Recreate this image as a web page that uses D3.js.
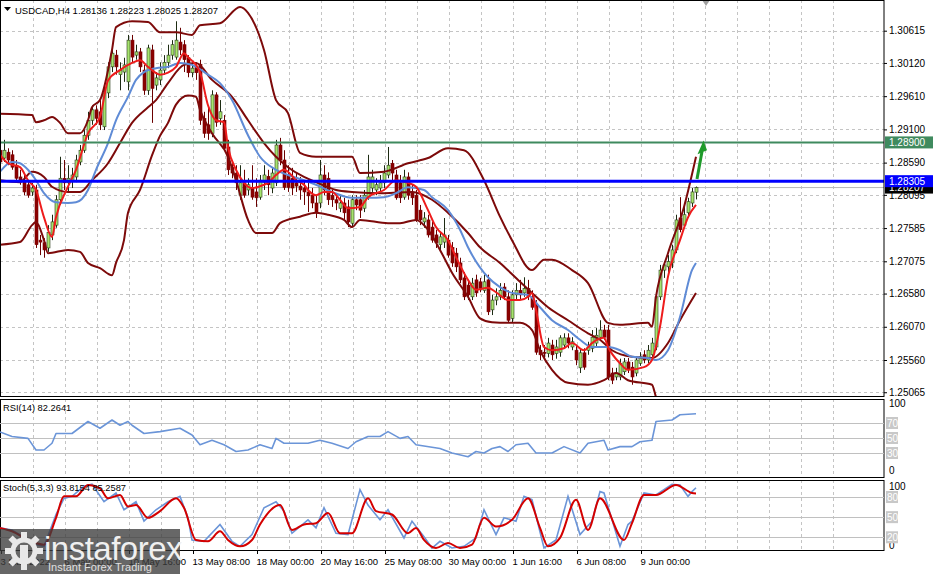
<!DOCTYPE html>
<html><head><meta charset="utf-8">
<script src="https://cdn.jsdelivr.net/npm/d3@7"></script>
<style>
body{margin:0;background:#fff;overflow:hidden}
svg{display:block}
text{font-family:"Liberation Sans",Arial,sans-serif}
</style>
</head><body>
<svg id="chart" width="933" height="574"></svg>
<script>
// ---------------- DATA ----------------
const titleText = "USDCAD,H4  1.28136 1.28223 1.28025 1.28207";
const rsiTitle = "RSI(14) 82.2641";
const stochTitle = "Stoch(5,3,3) 93.8154 85.2587";

// candles: [open, high, low, close], one per H4 bar
const candles = [
[1.2878,1.2886,1.2855,1.2860],[1.2866,1.2894,1.2860,1.2878],[1.2875,1.2881,1.2855,1.2863],[1.2871,1.2878,1.2848,1.2852],
[1.2855,1.2863,1.2829,1.2835],[1.2837,1.2848,1.2825,1.2832],[1.2832,1.2840,1.2809,1.2814],[1.2825,1.2832,1.2805,1.2809],
[1.2814,1.2828,1.2808,1.2820],[1.2817,1.2825,1.2728,1.2733],[1.2740,1.2748,1.2717,1.2737],[1.2736,1.2743,1.2713,1.2725],
[1.2728,1.2763,1.2722,1.2752],[1.2748,1.2779,1.2740,1.2768],[1.2763,1.2809,1.2759,1.2802],[1.2802,1.2868,1.2794,1.2835],
[1.2835,1.2863,1.2817,1.2828],[1.2828,1.2855,1.2814,1.2835],[1.2832,1.2851,1.2820,1.2840],[1.2837,1.2871,1.2829,1.2863],
[1.2860,1.2886,1.2855,1.2878],[1.2878,1.2909,1.2874,1.2901],[1.2901,1.2937,1.2894,1.2924],[1.2924,1.2947,1.2917,1.2940],
[1.2940,1.2947,1.2917,1.2927],[1.2937,1.2955,1.2909,1.2917],[1.2914,1.2978,1.2909,1.2966],[1.2966,1.3013,1.2958,1.3006],
[1.3006,1.3040,1.2998,1.3027],[1.3024,1.3032,1.2994,1.3006],[1.2994,1.3013,1.2970,1.3001],[1.2998,1.3020,1.2983,1.3009],
[1.2983,1.3055,1.2970,1.3047],[1.3047,1.3055,1.3013,1.3021],[1.3024,1.3040,1.3017,1.3029],[1.3029,1.3035,1.2998,1.3006],
[1.3001,1.3009,1.2963,1.2970],[1.2970,1.3040,1.2963,1.3035],[1.3032,1.3040,1.2920,1.2973],[1.2978,1.2998,1.2970,1.2989],
[1.2986,1.3013,1.2978,1.3001],[1.3001,1.3024,1.2994,1.3013],[1.3013,1.3040,1.3004,1.3024],[1.3024,1.3047,1.3017,1.3040],
[1.3021,1.3076,1.3017,1.3047],[1.3044,1.3066,1.3024,1.3032],[1.3040,1.3047,1.2998,1.3017],[1.3020,1.3024,1.2990,1.2997],
[1.2997,1.3013,1.2990,1.3004],[1.3007,1.3013,1.2986,1.2997],[1.3010,1.3017,1.2917,1.2924],[1.2927,1.2937,1.2897,1.2904],
[1.2917,1.2943,1.2894,1.2904],[1.2904,1.2970,1.2898,1.2963],[1.2963,1.2967,1.2914,1.2921],[1.2927,1.2955,1.2917,1.2937],
[1.2924,1.2932,1.2878,1.2881],[1.2883,1.2894,1.2840,1.2848],[1.2852,1.2863,1.2835,1.2843],[1.2843,1.2855,1.2817,1.2828],
[1.2809,1.2855,1.2802,1.2828],[1.2828,1.2848,1.2805,1.2809],[1.2817,1.2835,1.2809,1.2825],[1.2821,1.2855,1.2802,1.2806],
[1.2814,1.2835,1.2791,1.2805],[1.2806,1.2840,1.2802,1.2832],[1.2829,1.2855,1.2817,1.2840],[1.2838,1.2848,1.2809,1.2825],
[1.2820,1.2851,1.2812,1.2843],[1.2828,1.2894,1.2823,1.2886],[1.2886,1.2897,1.2855,1.2863],[1.2863,1.2878,1.2817,1.2821],
[1.2840,1.2855,1.2814,1.2821],[1.2835,1.2851,1.2809,1.2820],[1.2828,1.2844,1.2814,1.2823],[1.2823,1.2837,1.2802,1.2817],
[1.2820,1.2832,1.2794,1.2814],[1.2814,1.2829,1.2783,1.2808],[1.2809,1.2820,1.2789,1.2797],[1.2797,1.2809,1.2774,1.2782],
[1.2797,1.2863,1.2789,1.2840],[1.2840,1.2855,1.2809,1.2817],[1.2835,1.2844,1.2794,1.2802],[1.2809,1.2817,1.2791,1.2802],
[1.2802,1.2809,1.2786,1.2797],[1.2789,1.2809,1.2783,1.2797],[1.2797,1.2805,1.2771,1.2782],[1.2791,1.2802,1.2760,1.2768],
[1.2766,1.2809,1.2760,1.2802],[1.2802,1.2809,1.2786,1.2794],[1.2802,1.2809,1.2774,1.2786],[1.2789,1.2817,1.2783,1.2809],
[1.2806,1.2871,1.2802,1.2837],[1.2820,1.2848,1.2814,1.2837],[1.2817,1.2835,1.2809,1.2825],[1.2820,1.2840,1.2814,1.2828],
[1.2828,1.2855,1.2820,1.2843],[1.2840,1.2883,1.2835,1.2855],[1.2858,1.2863,1.2832,1.2843],[1.2840,1.2848,1.2802,1.2805],
[1.2828,1.2840,1.2797,1.2805],[1.2806,1.2848,1.2802,1.2837],[1.2837,1.2844,1.2802,1.2809],[1.2814,1.2825,1.2794,1.2805],
[1.2809,1.2817,1.2768,1.2771],[1.2786,1.2794,1.2763,1.2771],[1.2768,1.2783,1.2759,1.2774],[1.2771,1.2779,1.2744,1.2748],
[1.2760,1.2768,1.2736,1.2740],[1.2748,1.2756,1.2728,1.2736],[1.2733,1.2753,1.2725,1.2745],[1.2737,1.2774,1.2728,1.2748],
[1.2740,1.2748,1.2713,1.2717],[1.2729,1.2737,1.2699,1.2705],[1.2720,1.2728,1.2691,1.2699],[1.2705,1.2713,1.2674,1.2679],
[1.2682,1.2691,1.2648,1.2653],[1.2671,1.2679,1.2648,1.2656],[1.2653,1.2682,1.2648,1.2674],[1.2679,1.2687,1.2653,1.2659],
[1.2676,1.2682,1.2660,1.2666],[1.2663,1.2687,1.2659,1.2676],[1.2679,1.2687,1.2625,1.2630],[1.2633,1.2656,1.2625,1.2648],
[1.2648,1.2666,1.2640,1.2653],[1.2653,1.2674,1.2648,1.2663],[1.2668,1.2674,1.2648,1.2653],[1.2653,1.2663,1.2613,1.2617],
[1.2620,1.2663,1.2614,1.2656],[1.2656,1.2674,1.2648,1.2663],[1.2663,1.2679,1.2648,1.2656],[1.2659,1.2683,1.2653,1.2666],
[1.2666,1.2679,1.2648,1.2653],[1.2653,1.2663,1.2633,1.2637],[1.2640,1.2648,1.2564,1.2568],[1.2571,1.2579,1.2556,1.2564],
[1.2568,1.2579,1.2556,1.2566],[1.2566,1.2590,1.2560,1.2582],[1.2579,1.2587,1.2556,1.2564],[1.2566,1.2587,1.2558,1.2576],
[1.2568,1.2594,1.2561,1.2590],[1.2579,1.2597,1.2574,1.2590],[1.2590,1.2597,1.2574,1.2582],[1.2576,1.2591,1.2571,1.2584],
[1.2571,1.2579,1.2548,1.2556],[1.2544,1.2574,1.2536,1.2567],[1.2567,1.2574,1.2541,1.2545],[1.2571,1.2584,1.2564,1.2576],
[1.2574,1.2602,1.2568,1.2591],[1.2582,1.2605,1.2576,1.2594],[1.2591,1.2617,1.2587,1.2602],[1.2602,1.2610,1.2587,1.2591],
[1.2602,1.2610,1.2525,1.2530],[1.2536,1.2544,1.2519,1.2525],[1.2530,1.2544,1.2525,1.2536],[1.2530,1.2558,1.2525,1.2551],
[1.2538,1.2559,1.2533,1.2553],[1.2553,1.2559,1.2536,1.2541],[1.2545,1.2553,1.2518,1.2530],[1.2536,1.2561,1.2531,1.2556],
[1.2551,1.2568,1.2547,1.2561],[1.2564,1.2571,1.2551,1.2556],[1.2556,1.2579,1.2551,1.2571],[1.2564,1.2590,1.2556,1.2582],
[1.2576,1.2660,1.2571,1.2653],[1.2653,1.2702,1.2648,1.2694],[1.2694,1.2707,1.2682,1.2702],[1.2699,1.2717,1.2691,1.2707],
[1.2705,1.2733,1.2697,1.2725],[1.2725,1.2779,1.2720,1.2771],[1.2774,1.2806,1.2752,1.2756],[1.2763,1.2794,1.2759,1.2779],
[1.2782,1.2805,1.2774,1.2799],[1.2797,1.2820,1.2791,1.2814],[1.28136,1.28223,1.28025,1.28207]
];

const priceTicks = [1.30615,1.30120,1.29610,1.29100,1.28590,1.28095,1.27585,1.27075,1.26580,1.26070,1.25560,1.25065];
const timeLabels = ["3 May 2022","6 May 00:00","10 May 16:00","13 May 08:00","18 May 00:00","20 May 16:00","25 May 08:00","30 May 00:00","1 Jun 16:00","6 Jun 08:00","9 Jun 00:00"];
const timeLabelBars = [0,16,32,48,64,80,96,112,128,144,160];

const levelGreen = 1.28900;
const levelBlue = 1.28305;
const lastPrice = 1.28207;

// indicator readings: [bar, value]
const bbUpper = [[0,1.2934],[8,1.2932],[9,1.2921],[11,1.2924],[13,1.2929],[15,1.2920],[17,1.2904],[20,1.2904],[22,1.2924],[23,1.2944],[25,1.2955],[28,1.3032],[29,1.3067],[33,1.3076],[37,1.3075],[40,1.3059],[44,1.3059],[48,1.3055],[50,1.3070],[55,1.3073],[60,1.3098],[62,1.3089],[66,1.3032],[69,1.2955],[72,1.2935],[75,1.2874],[79,1.2868],[88,1.2868],[90,1.2843],[96,1.2845],[102,1.2858],[107,1.2866],[112,1.2881],[116,1.2878],[121,1.2832],[125,1.2776],[128,1.2740],[133,1.2694],[136,1.2710],[138,1.2710],[143,1.2694],[147,1.2674],[152,1.2613],[155,1.2610],[162,1.2613],[163,1.2607],[164,1.2653],[167,1.2720],[171,1.2791],[174,1.2868]];
const bbMiddle = [[0,1.2832],[5,1.2829],[8,1.2845],[11,1.2837],[13,1.2822],[17,1.2814],[20,1.2814],[23,1.2832],[27,1.2858],[30,1.2889],[33,1.2920],[37,1.2944],[39,1.2955],[42,1.2981],[46,1.3009],[49,1.3012],[53,1.2986],[58,1.2960],[62,1.2924],[66,1.2889],[69,1.2868],[72,1.2852],[76,1.2837],[79,1.2829],[84,1.2817],[88,1.2814],[96,1.2812],[103,1.2814],[108,1.2802],[112,1.2782],[117,1.2751],[120,1.2729],[125,1.2705],[130,1.2676],[133,1.2659],[137,1.2637],[142,1.2617],[147,1.2597],[150,1.2587],[153,1.2571],[158,1.2561],[163,1.2559],[167,1.2582],[170,1.2617],[174,1.2659]];
const bbLower = [[0,1.2733],[5,1.2737],[8,1.2763],[9,1.2768],[11,1.2740],[12,1.2720],[17,1.2725],[20,1.2722],[22,1.2705],[25,1.2697],[28,1.2686],[29,1.2705],[31,1.2740],[32,1.2782],[35,1.2817],[38,1.2870],[40,1.2900],[42,1.2920],[44,1.2948],[47,1.2962],[49,1.2960],[50,1.2940],[53,1.2904],[57,1.2868],[59,1.2832],[62,1.2771],[64,1.2751],[68,1.2751],[70,1.2766],[75,1.2776],[79,1.2782],[82,1.2779],[86,1.2771],[88,1.2760],[90,1.2771],[97,1.2766],[100,1.2766],[104,1.2771],[107,1.2756],[110,1.2725],[113,1.2690],[117,1.2653],[120,1.2620],[123,1.2614],[127,1.2613],[130,1.2613],[133,1.2602],[135,1.2571],[138,1.2541],[142,1.2521],[147,1.2518],[151,1.2525],[154,1.2536],[157,1.2525],[163,1.2518],[164,1.2499],[167,1.2464],[174,1.2387]];
const maFast = [[0,1.2871],[2,1.2858],[5,1.2852],[7,1.2832],[9,1.2817],[11,1.2775],[13,1.2745],[14,1.2775],[17,1.2822],[19,1.2848],[22,1.2904],[25,1.2929],[27,1.2985],[30,1.3001],[33,1.3012],[35,1.3016],[37,1.3006],[40,1.2994],[42,1.2997],[44,1.3006],[46,1.3027],[47,1.3021],[50,1.2998],[52,1.2947],[54,1.2924],[56,1.2921],[57,1.2883],[59,1.2848],[61,1.2828],[63,1.2820],[66,1.2825],[67,1.2828],[69,1.2840],[71,1.2848],[72,1.2845],[74,1.2832],[76,1.2825],[77,1.2817],[79,1.2809],[81,1.2814],[83,1.2814],[85,1.2802],[87,1.2789],[90,1.2791],[92,1.2806],[96,1.2817],[99,1.2832],[102,1.2828],[104,1.2822],[107,1.2786],[109,1.2760],[112,1.2740],[114,1.2714],[117,1.2679],[119,1.2664],[122,1.2667],[124,1.2660],[127,1.2648],[130,1.2648],[132,1.2653],[133,1.2659],[134,1.2633],[136,1.2576],[138,1.2571],[141,1.2574],[143,1.2582],[146,1.2571],[148,1.2582],[151,1.2590],[152,1.2576],[155,1.2551],[157,1.2541],[161,1.2545],[163,1.2556],[165,1.2607],[167,1.2684],[170,1.2740],[172,1.2775],[174,1.2794]];
const maSlow = [[0,1.2845],[3,1.2860],[5,1.2858],[7,1.2848],[9,1.2832],[11,1.2812],[14,1.2798],[17,1.2797],[19,1.2798],[22,1.2817],[24,1.2848],[27,1.2889],[29,1.2924],[32,1.2960],[34,1.2986],[36,1.2998],[39,1.3004],[42,1.3006],[45,1.3012],[48,1.3009],[52,1.2994],[55,1.2981],[58,1.2955],[62,1.2901],[65,1.2868],[69,1.2848],[72,1.2840],[76,1.2832],[79,1.2825],[83,1.2814],[88,1.2805],[92,1.2805],[96,1.2806],[99,1.2812],[102,1.2821],[106,1.2817],[108,1.2806],[112,1.2786],[115,1.2756],[117,1.2729],[122,1.2683],[125,1.2668],[128,1.2659],[132,1.2656],[135,1.2637],[138,1.2617],[142,1.2602],[145,1.2587],[148,1.2576],[152,1.2576],[155,1.2571],[158,1.2561],[162,1.2559],[164,1.2556],[167,1.2571],[170,1.2622],[173,1.2694],[174,1.2705]];

const rsiBars = [0,3,7,9,11,13,14,18,22,25,28,30,32,33,36,40,45,48,50,53,56,59,62,65,68,69,71,77,80,83,87,89,92,95,97,100,102,104,110,113,117,119,121,123,125,127,129,132,134,138,141,145,147,151,152,155,158,160,163,164,168,170,174];
const rsiValues = [58,52,49.5,34,34,43,56,56,72,63,74,67,72,67,56,58.5,63,54,41,47,41,32,34,41,36,49.5,43,43,47,43,36,45,52,52,58.5,49.5,52,41,36,30,25,32,30,36,38.5,32,41,43,30,30,38.5,30,43,47,34,38.5,38.5,45,47,72,74,81,82.26];
const rsiLevels = [70,50,30];

const stochKBars = [0,3,9,11,14,16,18,21,23,26,29,31,34,36,39,42,45,47,48,51,55,58,60,63,66,69,71,73,77,79,81,84,87,90,92,95,97,101,103,106,108,110,113,116,119,121,124,126,129,131,133,136,139,142,145,148,150,151,155,157,158,161,164,168,170,172,173,174];
const stochKValues = [34,31,9,6.5,54,78,81,96,99,73,86,61,73,44,61,73,81,49,16,14,39,14,6.5,24,64,73,59,26,46,34,64,26,24,91,68,46,61,19,44,21,4,14,4,6.5,19,61,24,49,44,81,76,4,16,81,24,44,88,86,6.5,39,44,86,83,99,98,81,88,93.8];
const stochDBars = [0,3,7,11,14,16,19,22,25,27,30,32,34,37,40,44,46,49,52,55,57,60,63,65,70,73,76,79,82,85,88,92,94,98,102,104,106,109,112,115,118,121,124,128,132,135,137,140,144,147,150,156,158,161,164,169,173,174];
const stochDValues = [34,29,16,9,49,81,81,98,93,78,83,66,68,49,59,78,64,16,14,29,16,6.5,16,39,68,31,39,41,56,26,26,78,59,54,26,34,16,4,11.5,4,9,49,36,46,78,34,6.5,19,76,31,78,16,41,83,83,98,86,85.26];
const stochLevels = [80,50,20];

// ---------------- LAYOUT ----------------
const svg = d3.select("#chart");
const PR = 884;                 // right edge of plot panels
const main = {top:0, bottom:397};
const rsiP = {top:399, bottom:478};
const stP = {top:480, bottom:551};

const xs = d3.scaleLinear().domain([0,174]).range([0,696]);
const ys = d3.scaleLinear().domain([1.30615,1.25560]).range([30.7,360]);
const yr = d3.scaleLinear().domain([0,100]).range([475.5,400.5]);
const yst = d3.scaleLinear().domain([0,100]).range([550.7,483.6]);

const defs = svg.append("defs");
function clip(id, p){ defs.append("clipPath").attr("id",id).append("rect").attr("x",0).attr("y",p.top).attr("width",PR).attr("height",p.bottom-p.top); }
clip("cMain",main); clip("cRsi",rsiP); clip("cSt",stP);

svg.append("rect").attr("width",933).attr("height",574).attr("fill","#fff");

const gridColor = "#c4c4c4";
// vertical grid
const vGrid = d3.range(8,174+40,8).filter(b=>xs(b)+1<PR);
[main,rsiP,stP].forEach(p=>{
  svg.append("g").selectAll("line").data(vGrid).join("line")
    .attr("x1",d=>Math.round(xs(d))+1.5).attr("x2",d=>Math.round(xs(d))+1.5)
    .attr("y1",p.top).attr("y2",p.bottom)
    .attr("stroke",gridColor).attr("stroke-width",1).attr("stroke-dasharray","3,3");
});
// horizontal grid main
svg.append("g").selectAll("line").data(priceTicks).join("line")
  .attr("x1",0).attr("x2",PR).attr("y1",d=>Math.round(ys(d))+0.5).attr("y2",d=>Math.round(ys(d))+0.5)
  .attr("stroke",gridColor).attr("stroke-dasharray","3,3");

// ---------------- MAIN PANEL ----------------
const gm = svg.append("g").attr("clip-path","url(#cMain)");

// current price line
gm.append("line").attr("x1",0).attr("x2",PR).attr("y1",ys(lastPrice)).attr("y2",ys(lastPrice))
  .attr("stroke","#b8b8b8").attr("stroke-width",1);

// candles
const cg = gm.append("g");
candles.forEach((c,i)=>{
  const [o,h,l,cl] = c;
  const x = Math.round(xs(i));
  const bull = cl>=o;
  const col = bull ? "#1d2b12" : "#6b0000";
  cg.append("line").attr("x1",x+0.5).attr("x2",x+0.5).attr("y1",ys(h)).attr("y2",ys(l))
    .attr("stroke",col).attr("stroke-width",1);
  const y1 = ys(Math.max(o,cl)), y2 = ys(Math.min(o,cl));
  cg.append("rect").attr("x",x-1).attr("y",y1).attr("width",3).attr("height",Math.max(1,y2-y1))
    .attr("fill",bull?"#a6e36e":"#8b0000").attr("stroke",bull?"#2a3a1a":"#7a0000").attr("stroke-width",0.6);
});

const lineP = d3.line().x(d=>xs(d[0])).y(d=>ys(d[1])).curve(d3.curveMonotoneX);
[[bbUpper,"#7d0a0a",2],[bbLower,"#7d0a0a",2],[bbMiddle,"#7d0a0a",2],[maSlow,"#5f8bd6",2],[maFast,"#ee1c1c",2]].forEach(([d,c,w])=>{
  gm.append("path").datum(d).attr("d",lineP).attr("fill","none").attr("stroke",c).attr("stroke-width",w).attr("stroke-linejoin","round");
});

// horizontal levels
gm.append("line").attr("x1",0).attr("x2",PR).attr("y1",ys(levelGreen)).attr("y2",ys(levelGreen))
  .attr("stroke","#3f8a5e").attr("stroke-width",2);
gm.append("line").attr("x1",0).attr("x2",PR).attr("y1",ys(levelBlue)).attr("y2",ys(levelBlue))
  .attr("stroke","#0000ff").attr("stroke-width",3);

// green arrow
const ag = gm.append("g");
ag.append("line").attr("x1",xs(174)+1).attr("y1",ys(1.2834)).attr("x2",xs(174)+6).attr("y2",ys(1.2876))
  .attr("stroke","#1e9a2a").attr("stroke-width",3);
ag.append("path").attr("d",`M${xs(174)+7.5},${ys(1.2893)} L${xs(174)+1.5},${ys(1.2872)} L${xs(174)+11},${ys(1.2878)} Z`).attr("fill","#1e9a2a");

// chart shift marker
svg.append("path").attr("d","M702,0 L710,0 L706,6 Z").attr("fill","#a0a0a0");

// title
svg.append("path").attr("d","M4,7 L11,7 L7.5,11 Z").attr("fill","#000");
svg.append("text").attr("x",15).attr("y",14).attr("font-size",9.6).attr("fill","#000")
  .attr("textLength",203).attr("lengthAdjust","spacingAndGlyphs").text(titleText);

// panel borders
[main,rsiP,stP].forEach(p=>{
  svg.append("rect").attr("x",0.5).attr("y",p.top+0.5).attr("width",PR-0.5).attr("height",p.bottom-p.top-1)
    .attr("fill","none").attr("stroke","#000").attr("stroke-width",1);
});

// price axis
const pa = svg.append("g").attr("transform",`translate(${PR},0)`)
  .call(d3.axisRight(ys).tickValues(priceTicks).tickFormat(d3.format(".5f")).tickSize(3).tickPadding(2));
pa.select(".domain").remove();
pa.selectAll("text").attr("font-size",10).attr("font-family","Liberation Sans, Arial, sans-serif").attr("fill","#000");
pa.selectAll("line").attr("stroke","#000");

// price tags
function tag(v, bg, top, h){
  svg.append("rect").attr("x",PR+1).attr("y",top).attr("width",933-PR-1).attr("height",h).attr("fill",bg);
  svg.append("text").attr("x",PR+5).attr("y",top+h-2.5).attr("font-size",10).attr("fill","#fff").text(d3.format(".5f")(v));
}
tag(lastPrice,"#000",ys(lastPrice)-5,11);
tag(levelBlue,"#0000ff",ys(levelBlue)-6,12);
tag(levelGreen,"#3f8a5e",ys(levelGreen)-6,12);

// ---------------- RSI ----------------
const gr = svg.append("g").attr("clip-path","url(#cRsi)");
gr.selectAll("line.lv").data(rsiLevels).join("line").attr("class","lv")
  .attr("x1",0).attr("x2",PR).attr("y1",d=>Math.round(yr(d))+0.5).attr("y2",d=>Math.round(yr(d))+0.5).attr("stroke","#c0c0c0");
gr.append("path").datum(rsiBars.map((b,i)=>[b,rsiValues[i]]))
  .attr("d",d3.line().x(d=>xs(d[0])).y(d=>yr(d[1])))
  .attr("fill","none").attr("stroke","#6b95d8").attr("stroke-width",1.6).attr("stroke-linejoin","round");
svg.append("text").attr("x",3).attr("y",411).attr("font-size",9.3).attr("fill","#000").text(rsiTitle);

// ---------------- STOCH ----------------
const gs = svg.append("g").attr("clip-path","url(#cSt)");
gs.selectAll("line.lv").data(stochLevels).join("line").attr("class","lv")
  .attr("x1",0).attr("x2",PR).attr("y1",d=>Math.round(yst(d))+0.5).attr("y2",d=>Math.round(yst(d))+0.5).attr("stroke","#c0c0c0");
gs.append("path").datum(stochKBars.map((b,i)=>[b,stochKValues[i]]))
  .attr("d",d3.line().x(d=>xs(d[0])).y(d=>yst(d[1])))
  .attr("fill","none").attr("stroke","#6b95d8").attr("stroke-width",1.6);
gs.append("path").datum(stochDBars.map((b,i)=>[b,stochDValues[i]]))
  .attr("d",d3.line().x(d=>xs(d[0])).y(d=>yst(d[1])).curve(d3.curveMonotoneX))
  .attr("fill","none").attr("stroke","#d40000").attr("stroke-width",2);
svg.append("text").attr("x",3).attr("y",491).attr("font-size",9.3).attr("fill","#000").text(stochTitle);

// sub-panel scale labels
function subLabels(scale, levels){
  svg.append("text").attr("x",PR+5).attr("y",scale(100)+6).attr("font-size",10).text("100");
  svg.append("text").attr("x",PR+5).attr("y",scale(0)-2).attr("font-size",10).text("0");
  levels.forEach(l=>{
    svg.append("rect").attr("x",PR+2).attr("y",scale(l)-6).attr("width",12).attr("height",12).attr("fill","#c8c8c8");
    svg.append("text").attr("x",PR+3).attr("y",scale(l)+4).attr("font-size",10).attr("fill","#fff").text(l);
  });
}
subLabels(yr, rsiLevels);
subLabels(yst, stochLevels);

// ---------------- TIME AXIS ----------------
const ta = svg.append("g").attr("transform",`translate(0,${stP.bottom})`)
  .call(d3.axisBottom(xs).tickValues(timeLabelBars).tickFormat((d,i)=>timeLabels[i]).tickSize(3).tickPadding(4));
ta.select(".domain").remove();
ta.selectAll("line").attr("stroke","#000").attr("transform","translate(1,0)");
ta.selectAll("text").attr("text-anchor","start").attr("dx",0).attr("font-size",9.5)
  .attr("font-family","Liberation Sans, Arial, sans-serif").attr("fill","#000");

// ---------------- WATERMARK ----------------
const wm = svg.append("g");
wm.append("rect").attr("x",0).attr("y",529).attr("width",180).attr("height",45).attr("fill","#3c3c3c").attr("opacity",0.78);
const logo = wm.append("g").attr("transform","translate(24,551)").attr("fill","#e8e8e8");
d3.range(8).forEach(k=>{
  logo.append("rect").attr("x",-3).attr("y",-19).attr("width",6).attr("height",9).attr("transform",`rotate(${k*45})`);
});
logo.append("circle").attr("r",11).attr("fill","none").attr("stroke","#e8e8e8").attr("stroke-width",5);
logo.append("path").attr("d","M-4,-6 L4,-6 L4,10 L-4,10 Z");
wm.append("text").attr("x",44).attr("y",560).attr("font-size",33).attr("font-family","Open Sans, Liberation Sans, sans-serif")
  .attr("fill","#f0f0f0").attr("letter-spacing",-0.5).text("instaforex");
wm.append("text").attr("x",48).attr("y",571).attr("font-size",11).attr("fill","#e0e0e0").text("Instant Forex Trading");
</script>
</body></html>
